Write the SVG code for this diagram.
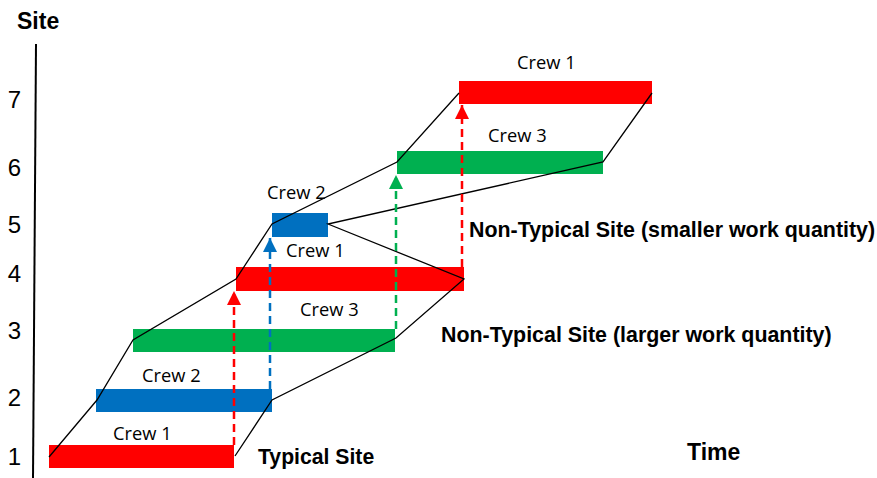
<svg xmlns="http://www.w3.org/2000/svg" width="877" height="478" viewBox="0 0 877 478">
<style>
.crew{font-family:"Open Sans","Liberation Sans",sans-serif;font-size:18.3px;fill:#000}
.bold{font-family:"Liberation Sans",Arial,sans-serif;font-weight:bold;fill:#000}
.num{font-family:"Liberation Sans",Arial,sans-serif;font-size:24px;fill:#000;text-anchor:middle}
.red{fill:#FF0000}.blue{fill:#0070C0}.green{fill:#00B050}
.sched{fill:none;stroke:#000;stroke-width:1.3}
.dash{fill:none;stroke-width:2.5;stroke-dasharray:8 5}
</style>
<defs>
<marker id="ar" viewBox="0 0 14 15" refX="14" refY="7" markerWidth="14" markerHeight="15" markerUnits="userSpaceOnUse" orient="auto"><path d="M0,0L14,7L0,14Z" fill="#FF0000"/></marker>
<marker id="ab" viewBox="0 0 14 15" refX="14" refY="7" markerWidth="14" markerHeight="15" markerUnits="userSpaceOnUse" orient="auto"><path d="M0,0L14,7L0,14Z" fill="#0070C0"/></marker>
<marker id="ag" viewBox="0 0 14 15" refX="14" refY="7" markerWidth="14" markerHeight="15" markerUnits="userSpaceOnUse" orient="auto"><path d="M0,0L14,7L0,14Z" fill="#00B050"/></marker>
</defs>
<rect width="877" height="478" fill="#fff"/>
<g id="axis">
<line x1="36" y1="44" x2="33" y2="478" stroke="#000" stroke-width="2"/>
<text class="bold" x="17" y="29" font-size="23">Site</text>
<text class="num" x="14.5" y="108">7</text>
<text class="num" x="14.5" y="176">6</text>
<text class="num" x="14.5" y="233">5</text>
<text class="num" x="14.5" y="282">4</text>
<text class="num" x="14.5" y="339">3</text>
<text class="num" x="14.5" y="406">2</text>
<text class="num" x="14.5" y="465">1</text>
<text class="bold" x="687" y="460" font-size="23">Time</text>
</g>
<g id="s1-crew1"><rect class="red" x="49" y="445" width="185" height="23"/><text class="crew" x="113" y="440">Crew 1</text></g>
<g id="s2-crew2"><rect class="blue" x="96" y="389" width="176" height="23"/><text class="crew" x="142" y="382">Crew 2</text></g>
<g id="s3-crew3"><rect class="green" x="133" y="329" width="262" height="23"/><text class="crew" x="300" y="316">Crew 3</text></g>
<g id="s4-crew1"><rect class="red" x="236" y="267" width="228" height="24"/><text class="crew" x="286" y="257">Crew 1</text></g>
<g id="s5-crew2"><rect class="blue" x="272" y="213" width="56" height="24"/><text class="crew" x="267" y="199">Crew 2</text></g>
<g id="s6-crew3"><rect class="green" x="397" y="151" width="206" height="23"/><text class="crew" x="488" y="142">Crew 3</text></g>
<g id="s7-crew1"><rect class="red" x="459" y="81" width="193" height="23"/><text class="crew" x="517" y="69">Crew 1</text></g>
<g id="notes">
<text class="bold" x="258" y="464" font-size="21.2">Typical Site</text>
<text class="bold" x="469" y="237" font-size="21.4">Non-Typical Site (smaller work quantity)</text>
<text class="bold" x="441" y="342" font-size="21.4">Non-Typical Site (larger work quantity)</text>
</g>
<g id="connectors">
<polyline class="sched" points="49,457 97,400 133,340 236,279 272,224 397,162 459,93"/>
<polyline class="sched" points="235,456 272,400 396,338 464,279 328,224 603,162 652,93"/>
<line class="dash" x1="234" y1="445" x2="234" y2="291" stroke="#FF0000" marker-end="url(#ar)"/>
<line class="dash" x1="270" y1="389" x2="270" y2="238" stroke="#0070C0" stroke-dasharray="7 3" marker-end="url(#ab)"/>
<line class="dash" x1="396" y1="329" x2="396" y2="175" stroke="#00B050" marker-end="url(#ag)"/>
<line class="dash" x1="462" y1="267" x2="462" y2="105" stroke="#FF0000" marker-end="url(#ar)"/>
</g>
</svg>
